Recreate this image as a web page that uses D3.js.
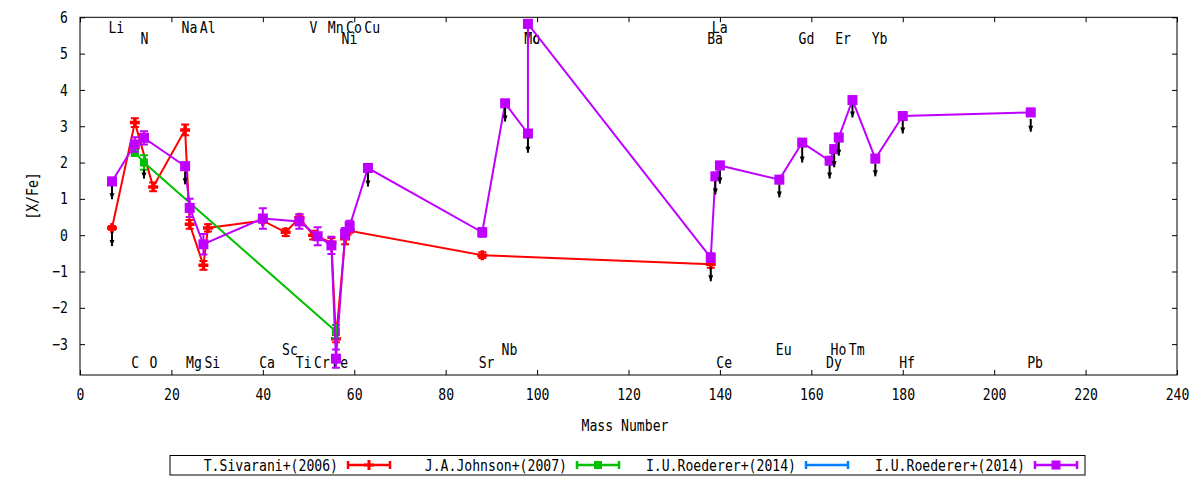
<!DOCTYPE html>
<html>
<head>
<meta charset="utf-8">
<script src="https://cdn.jsdelivr.net/npm/d3@7"></script>
<style>
body { margin: 0; background: #fff; }
text { font-family: "DejaVu Sans Mono", monospace; font-size: 16px; fill: #000; }
</style>
</head>
<body>
<svg id="chart" width="1200" height="480"></svg>
<script>
// axis ticks
var massTicks = [0, 20, 40, 60, 80, 100, 120, 140, 160, 180, 200, 220, 240];
var xfeTicks = [-3, -2, -1, 0, 1, 2, 3, 4, 5, 6];

// T.Sivarani+(2006)
var sivMass = [7, 12, 16, 23, 24, 27, 28, 40, 45, 48, 51, 55, 56, 58, 59, 88, 138];
var sivVal  = [0.2, 3.1, 1.33, 2.9, 0.3, -0.83, 0.2, 0.4, 0.08, 0.48, 0.0, -0.2, -2.85, -0.1, 0.12, -0.55, -0.8];
var sivErr  = [0.05, 0.12, 0.12, 0.15, 0.12, 0.12, 0.1, 0.06, 0.1, 0.08, 0.12, 0.12, 0.1, 0.15, 0.05, 0.08, 0.1];

// J.A.Johnson+(2007)
var johMass = [12, 14, 56];
var johVal  = [2.28, 2.0, -2.65];
var johErr  = [0.1, 0.2, 0.18];

// I.U.Roederer+(2014)
var roeMass = [7, 12, 14, 23, 24, 27, 40, 48, 52, 55, 56, 58, 59, 63, 88, 93, 98, 98, 138, 139, 140, 153, 158, 164, 165, 166, 169, 174, 180, 208];
var roeVal  = [1.48, 2.5, 2.68, 1.9, 0.75, -0.25, 0.46, 0.38, -0.03, -0.28, -3.4, 0.05, 0.25, 1.85, 0.08, 3.63, 2.8, 5.82, -0.62, 1.62, 1.92, 1.53, 2.55, 2.05, 2.37, 2.69, 3.72, 2.11, 3.28, 3.38];
var roeErr  = [0.1, 0.2, 0.18, 0.1, 0.25, 0.28, 0.28, 0.2, 0.25, 0.24, 0.25, 0.15, 0.15, 0.1, 0.12, 0.1, 0.1, 0.1, 0.12, 0.1, 0.1, 0.1, 0.1, 0.1, 0.1, 0.1, 0.1, 0.1, 0.1, 0.1];

// black downward arrows
var arrowMass   = [7, 7, 14, 23, 63, 93, 98, 138, 139, 140, 153, 158, 164, 165, 166, 169, 174, 180, 208];
var arrowTop    = [1.35, 0.1, 1.8, 1.75, 1.72, 3.51, 2.69, -0.89, 1.49, 1.78, 1.39, 2.42, 1.92, 2.24, 2.56, 3.59, 1.97, 3.15, 3.2];
var arrowBottom = [0.99, -0.3, 1.56, 1.4, 1.34, 3.13, 2.27, -1.27, 1.12, 1.42, 1.04, 2.0, 1.56, 1.87, 2.19, 3.24, 1.62, 2.8, 2.85];

// element names
var labelNames = ['Li','Na','Al','V','Mn','Co','Cu','La',
                  'N','Ni','Mo','Tc','Ba','Gd','Er','Yb',
                  'Sc','Nb','Eu','Ho','Tm',
                  'C','O','Mg','Si','Ca','Ti','Cr','Fe','Sr','Ce','Dy','Hf','Pb'];
var labelMass  = [7, 23, 27, 51, 55, 59, 63, 139,
                  14, 58, 98, 98, 138, 158, 166, 174,
                  45, 93, 153, 165, 169,
                  12, 16, 24, 28, 40, 48, 52, 56, 88, 140, 164, 180, 208];
var labelLevel = [5.73, 5.73, 5.73, 5.73, 5.73, 5.73, 5.73, 5.73,
                  5.43, 5.43, 5.43, 5.43, 5.43, 5.43, 5.43, 5.43,
                  -3.14, -3.14, -3.14, -3.14, -3.14,
                  -3.49, -3.49, -3.49, -3.49, -3.49, -3.49, -3.49, -3.49, -3.49, -3.49, -3.49, -3.49, -3.49];

var legendNames  = ['T.Sivarani+(2006)', 'J.A.Johnson+(2007)', 'I.U.Roederer+(2014)', 'I.U.Roederer+(2014)'];
var legendColors = ['#ff0000', '#00c000', '#0080ff', '#c000ff'];
var legendMarks  = ['plus', 'smallsquare', 'none', 'square'];

var svg = d3.select('#chart');
var plotLeft = 80, plotRight = 1177, plotTop = 17.3, plotBottom = 375;

var x = d3.scaleLinear().domain([0, 240]).range([plotLeft, plotRight]);
var y = d3.scaleLinear().domain([-3.85, 6]).range([plotBottom, plotTop]);

// axes
svg.append('g')
    .attr('transform', 'translate(0,' + plotBottom + ')')
    .call(d3.axisBottom(x).tickValues(massTicks).tickSizeInner(-5).tickSizeOuter(0).tickPadding(14));
svg.append('g')
    .attr('transform', 'translate(0,' + plotTop + ')')
    .call(d3.axisTop(x).tickValues(massTicks).tickSizeInner(-5).tickSizeOuter(0).tickFormat(''));
svg.append('g')
    .attr('transform', 'translate(' + plotLeft + ',0)')
    .call(d3.axisLeft(y).tickValues(xfeTicks).tickSizeInner(-5).tickSizeOuter(0).tickPadding(12));
svg.append('g')
    .attr('transform', 'translate(' + plotRight + ',0)')
    .call(d3.axisRight(y).tickValues(xfeTicks).tickSizeInner(-5).tickSizeOuter(0).tickFormat(''));
svg.selectAll('.domain').remove();
svg.selectAll('.tick line').attr('stroke', '#000');

svg.append('rect')
    .attr('x', plotLeft).attr('y', plotTop)
    .attr('width', plotRight - plotLeft).attr('height', plotBottom - plotTop)
    .attr('fill', 'none').attr('stroke', '#000').attr('stroke-width', 1);

svg.append('text')
    .attr('transform', 'translate(32,196) rotate(-90)')
    .attr('text-anchor', 'middle').attr('dy', '0.35em')
    .text('[X/Fe]');
svg.append('text')
    .attr('x', 625).attr('y', 425)
    .attr('text-anchor', 'middle').attr('dy', '0.35em')
    .text('Mass Number');

// element labels (behind the data)
svg.append('g').selectAll('text')
    .data(labelNames)
    .enter().append('text')
    .attr('x', function(d, i) { return x(labelMass[i]) - 3.6; })
    .attr('y', function(d, i) { return y(labelLevel[i]); })
    .attr('dy', '0.35em')
    .text(function(d) { return d; });

function markerPath(kind, cx, cy) {
    if (kind == 'plus') return 'M' + (cx - 5) + ',' + cy + 'H' + (cx + 5) + 'M' + cx + ',' + (cy - 5) + 'V' + (cy + 5);
    return '';
}

function drawSeries(mass, val, err, color, kind) {
    var pts = mass.map(function(m, i) { return {m: m, v: val[i], e: err[i]}; });
    var g = svg.append('g');

    g.append('path')
        .datum(pts)
        .attr('fill', 'none')
        .attr('stroke', color)
        .attr('stroke-width', 2)
        .attr('d', d3.line().x(function(d) { return x(d.m); }).y(function(d) { return y(d.v); }));

    g.selectAll('.ebar')
        .data(pts)
        .enter().append('path')
        .attr('class', 'ebar')
        .attr('fill', 'none')
        .attr('stroke', color)
        .attr('stroke-width', 2)
        .attr('d', function(d) {
            var cx = x(d.m), y1 = y(d.v + d.e), y2 = y(d.v - d.e);
            return 'M' + cx + ',' + y1 + 'V' + y2 +
                   'M' + (cx - 4) + ',' + y1 + 'H' + (cx + 4) +
                   'M' + (cx - 4) + ',' + y2 + 'H' + (cx + 4);
        });

    if (kind == 'plus') {
        g.selectAll('.pt')
            .data(pts)
            .enter().append('path')
            .attr('class', 'pt')
            .attr('stroke', color)
            .attr('stroke-width', 3.5)
            .attr('d', function(d) { return markerPath('plus', x(d.m), y(d.v)); });
    } else {
        var s = kind == 'square' ? 10 : 8;
        g.selectAll('.pt')
            .data(pts)
            .enter().append('rect')
            .attr('class', 'pt')
            .attr('fill', color)
            .attr('x', function(d) { return x(d.m) - s / 2; })
            .attr('y', function(d) { return y(d.v) - s / 2; })
            .attr('width', s).attr('height', s);
    }
}

drawSeries(sivMass, sivVal, sivErr, legendColors[0], 'plus');
drawSeries(johMass, johVal, johErr, legendColors[1], 'smallsquare');
drawSeries(roeMass, roeVal, roeErr, legendColors[3], 'square');

// arrows
var arrowG = svg.append('g');
arrowMass.forEach(function(m, i) {
    var cx = x(m), y1 = y(arrowTop[i]), y2 = y(arrowBottom[i]);
    arrowG.append('line')
        .attr('x1', cx).attr('x2', cx)
        .attr('y1', y1).attr('y2', y2)
        .attr('stroke', '#000').attr('stroke-width', 2);
    arrowG.append('path')
        .attr('fill', '#000')
        .attr('d', 'M' + (cx - 2.5) + ',' + (y2 - 6) + 'H' + (cx + 2.5) + 'L' + cx + ',' + y2 + 'Z');
});

// legend
var legend = svg.append('g');
legend.append('rect')
    .attr('x', 170).attr('y', 455.5)
    .attr('width', 915).attr('height', 19.5)
    .attr('fill', 'none').attr('stroke', '#000');

legendNames.forEach(function(name, i) {
    var tx = 338 + 229 * i, ly = 465;
    legend.append('text')
        .attr('x', tx).attr('y', ly)
        .attr('dy', '0.35em')
        .attr('text-anchor', 'end')
        .text(name);
    var x0 = tx + 10, x1 = tx + 52, xm = (x0 + x1) / 2;
    legend.append('path')
        .attr('fill', 'none')
        .attr('stroke', legendColors[i])
        .attr('stroke-width', 2.5)
        .attr('d', 'M' + x0 + ',' + ly + 'H' + x1 +
                   'M' + x0 + ',' + (ly - 4) + 'V' + (ly + 4) +
                   'M' + x1 + ',' + (ly - 4) + 'V' + (ly + 4));
    if (legendMarks[i] == 'plus') {
        legend.append('path')
            .attr('stroke', legendColors[i]).attr('stroke-width', 3)
            .attr('d', markerPath('plus', xm, ly));
    } else if (legendMarks[i] != 'none') {
        var s = legendMarks[i] == 'square' ? 9 : 8;
        legend.append('rect')
            .attr('fill', legendColors[i])
            .attr('x', xm - s / 2).attr('y', ly - s / 2)
            .attr('width', s).attr('height', s);
    }
});

// gnuplot-like narrow tall glyphs: squeeze every text to the mono advance of the reference
svg.selectAll('text')
    .style('font-family', '"DejaVu Sans Mono", monospace')
    .style('font-size', '16px')
    .attr('lengthAdjust', 'spacingAndGlyphs')
    .attr('textLength', function() { return this.textContent.length * 7.9; });
</script>
</body>
</html>
